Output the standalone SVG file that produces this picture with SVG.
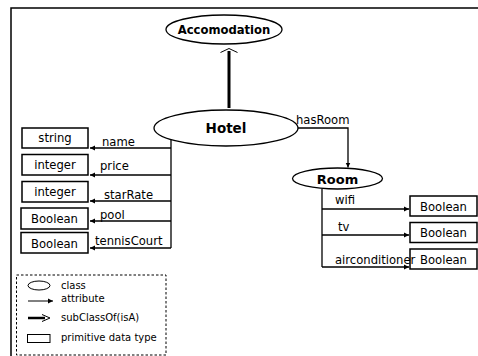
<svg xmlns="http://www.w3.org/2000/svg" width="478" height="356" viewBox="0 0 478 356">
<defs>
<style>
.t{font-family:"DejaVu Sans",Verdana,sans-serif;font-size:11.6px;fill:#000}
.b{font-family:"DejaVu Sans",Verdana,sans-serif;font-weight:bold;fill:#000}
.l{font-family:"DejaVu Sans",Verdana,sans-serif;font-size:10px;fill:#000}
.box{fill:#fff;stroke:#000;stroke-width:1.5}
.cls{fill:#fff;stroke:#000;stroke-width:1.3}
.ln{fill:none;stroke:#000;stroke-width:1.3}
</style>
<marker id="ah" markerWidth="6" markerHeight="6" refX="5" refY="3" orient="auto" markerUnits="userSpaceOnUse">
<path d="M0,0.5 L5,3 L0,5.5 Z" fill="#000"/>
</marker>
</defs>
<rect x="0" y="0" width="478" height="356" fill="#fff"/>
<path d="M11,356 V8 H478" fill="none" stroke="#000" stroke-width="1.5"/>

<g id="accomodation">
<ellipse cx="224" cy="29.5" rx="58" ry="14.5" class="cls"/>
<text class="b" x="224" y="34" font-size="11.6" text-anchor="middle">Accomodation</text>
</g>
<g id="hotel">
<ellipse cx="226" cy="128" rx="72" ry="18" class="cls"/>
<text class="b" x="226" y="133" font-size="13.5" text-anchor="middle">Hotel</text>
</g>
<g id="room">
<ellipse cx="337.5" cy="178.5" rx="45" ry="10.5" class="cls"/>
<text class="b" x="337.5" y="183.5" font-size="13" text-anchor="middle">Room</text>
</g>

<g id="string">
<rect x="22" y="128" width="66" height="20" class="box"/>
<text class="t" x="55" y="142" text-anchor="middle">string</text>
</g>
<g id="integer1">
<rect x="22" y="154.5" width="66" height="20.5" class="box"/>
<text class="t" x="55" y="169" text-anchor="middle">integer</text>
</g>
<g id="integer2">
<rect x="22" y="181.5" width="66" height="20.5" class="box"/>
<text class="t" x="55" y="196" text-anchor="middle">integer</text>
</g>
<g id="boolean1">
<rect x="21" y="208" width="67" height="21" class="box"/>
<text class="t" x="54.5" y="223" text-anchor="middle">Boolean</text>
</g>
<g id="boolean2">
<rect x="21" y="232.5" width="67" height="20.5" class="box"/>
<text class="t" x="54.5" y="247.5" text-anchor="middle">Boolean</text>
</g>
<g id="boolean3">
<rect x="410" y="196" width="67" height="20" class="box"/>
<text class="t" x="443.5" y="211" text-anchor="middle">Boolean</text>
</g>
<g id="boolean4">
<rect x="410" y="222.5" width="67" height="20" class="box"/>
<text class="t" x="443.5" y="237" text-anchor="middle">Boolean</text>
</g>
<g id="boolean5">
<rect x="410" y="249" width="67" height="20" class="box"/>
<text class="t" x="443.5" y="264" text-anchor="middle">Boolean</text>
</g>

<g id="connectors">
<line x1="229" y1="108" x2="229" y2="51" stroke="#000" stroke-width="3"/>
<polyline points="220.5,52.5 229,48.5 237.5,52.5" fill="none" stroke="#000" stroke-width="1"/>
<line x1="171" y1="139.5" x2="171" y2="248" class="ln"/>
<line x1="171" y1="148" x2="90" y2="148" class="ln" marker-end="url(#ah)"/>
<line x1="171" y1="175" x2="90" y2="175" class="ln" marker-end="url(#ah)"/>
<line x1="171" y1="201" x2="90" y2="201" class="ln" marker-end="url(#ah)"/>
<line x1="171" y1="221" x2="90" y2="221" class="ln" marker-end="url(#ah)"/>
<line x1="171" y1="248" x2="90" y2="248" class="ln" marker-end="url(#ah)"/>
<polyline points="298,128 348,128 348,167.5" class="ln" marker-end="url(#ah)"/>
<line x1="322" y1="189" x2="322" y2="267" class="ln"/>
<line x1="322" y1="209" x2="409" y2="209" class="ln" marker-end="url(#ah)"/>
<line x1="322" y1="235" x2="409" y2="235" class="ln" marker-end="url(#ah)"/>
<line x1="322" y1="267" x2="409" y2="267" class="ln" marker-end="url(#ah)"/>
<text class="t" x="102" y="146">name</text>
<text class="t" x="100" y="170">price</text>
<text class="t" x="104" y="199">starRate</text>
<text class="t" x="100" y="219">pool</text>
<text class="t" x="95" y="245">tennisCourt</text>
<text class="t" x="296" y="124">hasRoom</text>
<text class="t" x="335" y="204">wifi</text>
<text class="t" x="338" y="231">tv</text>
<text class="t" x="335" y="264">airconditioner</text>
</g>

<g id="legend">
<rect x="16.5" y="275" width="149.5" height="80" fill="none" stroke="#000" stroke-width="1" stroke-dasharray="2.5,2"/>
<ellipse cx="39" cy="285.5" rx="11" ry="4.5" fill="#fff" stroke="#000" stroke-width="1"/>
<text class="l" x="61" y="289">class</text>
<line x1="28" y1="301" x2="53" y2="301" stroke="#000" stroke-width="1" marker-end="url(#ah)"/>
<text class="l" x="61" y="302">attribute</text>
<line x1="28" y1="318" x2="45" y2="318" stroke="#000" stroke-width="2.5"/>
<polyline points="42,314.5 50,318 42,321.5" fill="none" stroke="#000" stroke-width="1"/>
<text class="l" x="61" y="321">subClassOf(isA)</text>
<rect x="27.5" y="334.5" width="22.5" height="8" fill="#fff" stroke="#000" stroke-width="1"/>
<text class="l" x="61" y="341">primitive data type</text>
</g>
</svg>
